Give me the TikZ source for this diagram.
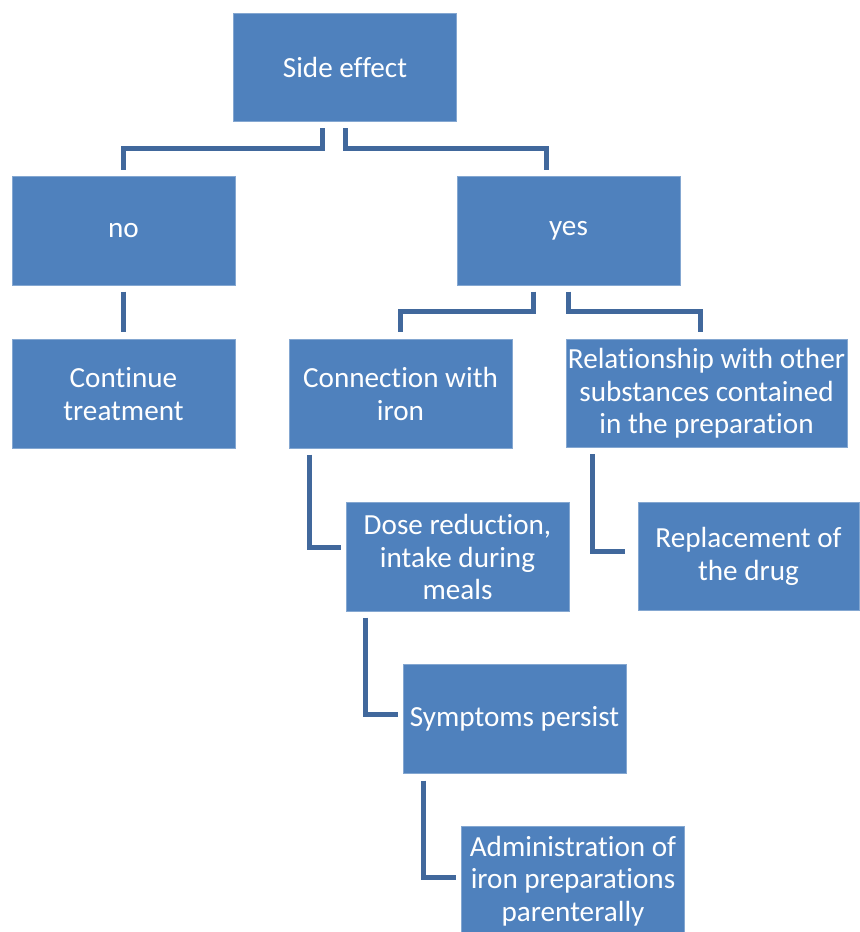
\documentclass[tikz,border=0pt]{standalone}
\usepackage{fontspec}
\setmainfont{Carlito}[Ligatures=NoCommon]
\usetikzlibrary{calc}
\definecolor{boxblue}{HTML}{4F81BD}
\definecolor{linkblue}{HTML}{41689C}
\tikzset{
  box/.style={fill=boxblue,draw=boxblue!70!white,line width=0.4pt,text=white,align=center,
    minimum width=4.46cm,minimum height=2.17cm,inner sep=0pt,
    font=\fontsize{16.6}{18.5}\selectfont},
  widebox/.style={box,minimum width=5.62cm},
  link/.style={linkblue,line width=0.1cm},
}
\begin{document}
\begin{tikzpicture}[x=0.02cm,y=-0.02cm]
    \useasboundingbox (0,0) rectangle (859,932);
    % ---------------- boxes ----------------
    \node[box] (side) at (345,67.5) {Side effect};
    \node[box] (no) at (123.5,231) {no};
    \node[box] (yes) at (568.5,231) {yes};
    \node[box] (cont) at (123.5,394) {Continue\\treatment};
    \node[box] (conn) at (400.5,394) {Connection with\\iron};
    \node[widebox] (rel) at (706.5,393.5) {Relationship with other\\substances contained\\in the preparation};
    \node[box] (dose) at (457.5,557) {Dose reduction,\\intake during\\meals};
    \node[box,minimum width=4.42cm] (repl) at (748.5,556.5) {Replacement of\\the drug};
    \node[box] (sympt) at (514.5,719) {Symptoms persist};
    \node[box] (admin) at (573,881) {Administration of\\iron preparations\\parenterally};
    % ---------------- links ----------------
    \draw[link] ($(side.south)+(-23,6)$) -- ++(0,20) -| ($(no.north)+(0,-6)$);
    \draw[link] ($(side.south)+(0.5,6)$) -- ++(0,20) -| ($(yes.north)+(-22,-6)$);
    \draw[link] ($(yes.south)+(-35,6)$) -- ++(0,20) -| ($(conn.north)+(0,-7)$);
    \draw[link] ($(yes.south)+(0,6)$) -- ++(0,20) -| ($(rel.north)+(-6,-7)$);
    \draw[link] ($(no.south)+(0,6)$) -- ($(cont.north)+(0,-7)$);
    % elbows down the right branch
    \draw[link] ($(conn.south)+(-91,6)$) |- ($(dose.west)+(-5,-10)$);
    \draw[link] ($(rel.south)+(-114,6)$) |- ($(repl.west)+(-13,-5)$);
    \draw[link] ($(dose.south)+(-92,6)$) |- ($(sympt.west)+(-5,-5)$);
    \draw[link] ($(sympt.south)+(-91,7)$) |- ($(admin.west)+(-5,-4)$);
  \end{tikzpicture}
\end{document}
